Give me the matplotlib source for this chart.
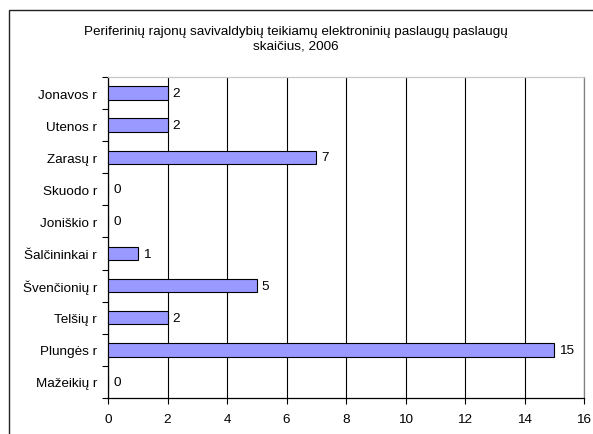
import matplotlib.pyplot as plt
from matplotlib.patches import Rectangle
import numpy as np

plt.rcParams['font.family'] = ['Liberation Sans', 'DejaVu Sans']

regions = ['Jonavos r', 'Utenos r', 'Zarasų r', 'Skuodo r', 'Joniškio r',
           'Šalčininkai r', 'Švenčionių r', 'Telšių r', 'Plungės r', 'Mažeikių r']
services = [2, 2, 7, 0, 0, 1, 5, 2, 15, 0]
xticks = [0, 2, 4, 6, 8, 10, 12, 14, 16]

W, H = 593, 435
fs = 9.7
fig = plt.figure(figsize=(W / 100, H / 100), dpi=100)

# outer frame of the chart (runs off right and bottom edge)
fig.patches.append(Rectangle((8.5 / W, -0.05), 1.1, (H - 11) / H + 0.05,
                             transform=fig.transFigure, fill=False,
                             edgecolor='#222222', linewidth=1.0))

ax = fig.add_axes([108 / W, (H - 399) / H, (584 - 108) / W, (399 - 78) / H])

y = np.arange(len(regions))[::-1]
ax.barh(y, services, height=0.42, color='#9999ff', edgecolor='black',
        linewidth=0.8, zorder=3)
for yi, v in zip(y, services):
    ax.text(v + 0.17, yi, str(v), va='center', ha='left', fontsize=fs)

ax.set_xlim(0, 16)
ax.set_ylim(-0.5, len(regions) - 0.5)
ax.set_xticks(xticks)
ax.set_xticklabels([str(t) for t in xticks], fontsize=fs)
ax.set_yticks(y)
ax.set_yticklabels(regions, fontsize=fs)
ax.set_yticks(np.arange(len(regions) + 1) - 0.5, minor=True)
ax.tick_params(axis='y', which='major', length=0, pad=8)
ax.tick_params(axis='y', which='minor', length=4, direction='out', width=0.8)
ax.tick_params(axis='x', length=4, direction='out', width=0.8, pad=7)

ax.grid(axis='x', color='black', linewidth=0.8, zorder=0)
ax.spines['left'].set_color('black')
ax.spines['bottom'].set_color('black')
ax.spines['top'].set_color('#c8c8c8')
ax.spines['right'].set_color('#808080')
for s in ax.spines.values():
    s.set_linewidth(0.9)

fig.text(296 / W, 1 - 39 / H,
         'Periferinių rajonų savivaldybių teikiamų elektroninių paslaugų paslaugų\nskaičius, 2006',
         ha='center', va='center', fontsize=fs, linespacing=1.25)

fig.savefig('out.png', dpi=100)
